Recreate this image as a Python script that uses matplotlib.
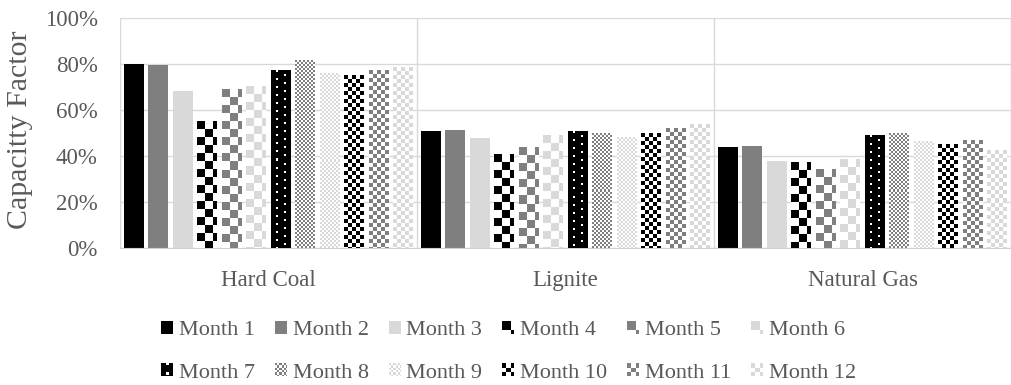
import numpy as np
import matplotlib
matplotlib.use("Agg")
import matplotlib.pyplot as plt
from matplotlib.patches import Patch
from matplotlib.legend_handler import HandlerBase
from matplotlib.image import BboxImage
from matplotlib.transforms import Bbox, TransformedBbox
from matplotlib.colors import to_rgb

plt.rcParams['font.family'] = ['Liberation Serif', 'DejaVu Serif']

# data
categories = ["Hard Coal", "Lignite", "Natural Gas"]
months = ["Month %d" % i for i in range(1, 13)]
m01 = [0.80, 0.507, 0.44]
m02 = [0.796, 0.514, 0.443]
m03 = [0.683, 0.477, 0.38]
m04 = [0.552, 0.407, 0.373]
m05 = [0.687, 0.435, 0.342]
m06 = [0.701, 0.491, 0.383]
m07 = [0.771, 0.506, 0.491]
m08 = [0.817, 0.497, 0.496]
m09 = [0.757, 0.481, 0.465]
m10 = [0.752, 0.497, 0.452]
m11 = [0.770, 0.520, 0.467]
m12 = [0.786, 0.536, 0.422]
values = [m01, m02, m03, m04, m05, m06, m07, m08, m09, m10, m11, m12]

BLACK, GREY, LIGHT = "#000000", "#7f7f7f", "#d9d9d9"
TEXT = "#595959"
# (pattern kind, colour) for each month
styles = [("solid", BLACK), ("solid", GREY), ("solid", LIGHT),
          ("check8", BLACK), ("check8", GREY), ("check8", LIGHT),
          ("dots", BLACK), ("check2", GREY), ("check2", LIGHT),
          ("check4", BLACK), ("check4", GREY), ("check4", LIGHT)]


def make_tile(kind, color):
    c = np.array(to_rgb(color))
    w = np.ones(3)
    if kind == "solid":
        mask = np.ones((8, 8), bool)
    elif kind == "dots":
        mask = np.ones((8, 16), bool)
        mask[0:2, 5:7] = False
        mask[4:6, 13:15] = False
    else:
        n = int(kind[5:])
        yy, xx = np.mgrid[0:2 * n, 0:2 * n]
        mask = ((yy // n + xx // n) % 2) == 0
    return np.where(mask[..., None], c, w)


def fill(tile, h, w):
    ry = int(np.ceil(h / tile.shape[0])) + 1
    rx = int(np.ceil(w / tile.shape[1])) + 1
    return np.tile(tile, (ry, rx, 1))[:h, :w]


class HandlerTile(HandlerBase):
    def __init__(self, img):
        super().__init__()
        self.img = img

    def create_artists(self, legend, orig_handle, xdescent, ydescent,
                       width, height, fontsize, trans):
        bb = TransformedBbox(Bbox.from_bounds(-xdescent, -ydescent, width, height), trans)
        im = BboxImage(bb, interpolation='nearest')
        im.set_data(self.img)
        return [im]


fig = plt.figure(figsize=(10.11, 3.85), dpi=100)
ax = fig.add_axes([120 / 1011, 137 / 385, 891 / 1011, 230 / 385])
ax.set_xlim(0, 3)
ax.set_ylim(0, 1)
ax.set_autoscale_on(False)

pitch = 0.0825
width = 0.066
x = np.arange(len(categories)) + 0.5
tiles = [make_tile(k, c) for k, c in styles]

for i, vals in enumerate(values):
    kind, col = styles[i]
    bars = ax.bar(x + (i - 5.5) * pitch, vals, width=width,
                  color=col if kind == "solid" else "white",
                  edgecolor="none", zorder=2)
    if kind == "solid":
        continue
    for b in bars:
        bb = b.get_bbox()
        (px0, py0), (px1, py1) = ax.transData.transform([[bb.x0, bb.y0], [bb.x1, bb.y1]])
        img = fill(tiles[i], max(int(round(py1 - py0)), 1), max(int(round(px1 - px0)), 1))
        ax.imshow(img, extent=(bb.x0, bb.x1, bb.y0, bb.y1), origin='upper',
                  aspect='auto', interpolation='nearest', clip_path=b, zorder=3)

ax.set_xlim(0, 3)
ax.set_ylim(0, 1)

ax.set_yticks(np.arange(0, 1.01, 0.2))
ax.set_yticklabels(["%d%%" % round(v * 100) for v in np.arange(0, 1.01, 0.2)])
ax.set_xticks(x)
ax.set_xticklabels(categories)
ax.set_xticks([0, 1, 2, 3], minor=True)
ax.grid(axis='y', color='#d9d9d9', lw=1, zorder=0)
ax.grid(axis='x', which='minor', color='#d9d9d9', lw=1, zorder=0)
ax.tick_params(axis='y', length=0, pad=16, labelsize=16.5, labelcolor=TEXT)
ax.tick_params(axis='x', which='both', length=0, pad=16, labelsize=16.5, labelcolor=TEXT)
for s in ['top', 'right', 'left']:
    ax.spines[s].set_visible(False)
ax.spines['bottom'].set_color('#d0d0d0')
ax.set_axisbelow(True)

ax.set_ylabel("Capacitty Factor", fontsize=21.5, color=TEXT)
ax.yaxis.set_label_coords(-0.0976, 0.513)

# legend, row-major order
proxies = [Patch(label=m) for m in months]
hmap = {p: HandlerTile(fill(t, 11, 11)) for p, t in zip(proxies, tiles)}
order = [0, 6, 1, 7, 2, 8, 3, 9, 4, 10, 5, 11]
fig.legend([proxies[k] for k in order], [months[k] for k in order],
           handler_map=hmap, loc='center', bbox_to_anchor=(0.503, 0.086),
           ncol=6, frameon=False, fontsize=16, labelcolor=TEXT,
           handlelength=0.5, handleheight=0.5, handletextpad=0.3,
           columnspacing=0.9, labelspacing=1.05)

fig.savefig("out.png", dpi=100)
